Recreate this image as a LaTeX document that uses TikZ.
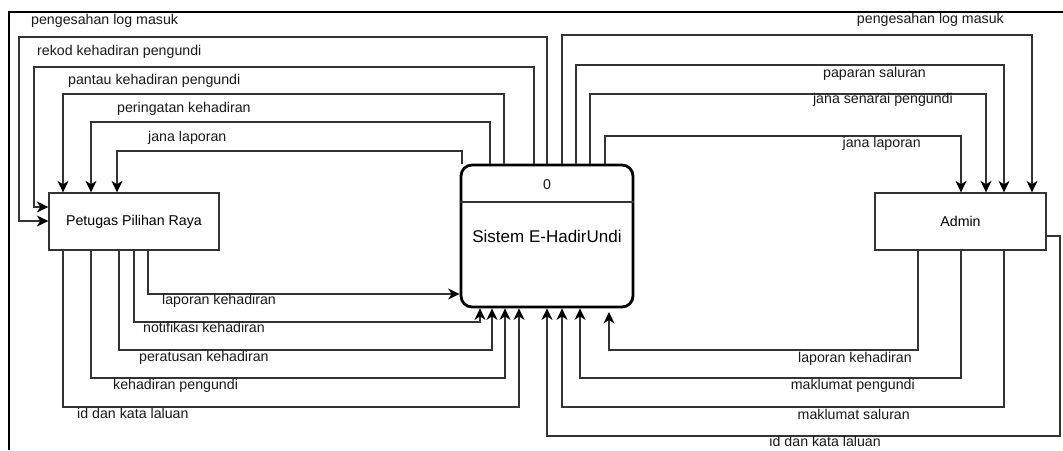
\documentclass[tikz,border=0pt]{standalone}
\usepackage{fontspec}
\setmainfont{Liberation Sans}
\usetikzlibrary{arrows.meta}
\begin{document}
\begin{tikzpicture}[x=1pt,y=-1pt,
  entity/.style={draw=black!80, line width=1.3pt, minimum width=170pt,
    minimum height=57pt, inner sep=0pt, font=\fontsize{14.2}{17}\selectfont},
  process/.style={draw=black, line width=2.8pt, rounded corners=11pt,
    minimum width=172pt, minimum height=142pt, inner sep=0pt,
    font=\fontsize{17}{20}\selectfont},
  flow/.style={draw=black!80, line width=1.3pt,
    -{Stealth[length=11.5pt,width=11pt,inset=3.5pt,color=black]}},
  lbl/.style={inner sep=0pt, text height=10pt, text depth=3pt,
    font=\fontsize{14.2}{17}\selectfont, text=black!90}
]
\useasboundingbox (0,0) rectangle (1063,450);

% page frame
\draw[line width=2pt] (9,450) -- (9,12) -- (1063,12);

% entities and the process
\node[entity]  (P) at (134,221.5) {Petugas Pilihan Raya};
\node[entity, minimum width=171pt] (A) at (960.5,221.5) {Admin};
\node[process] (S) at (547,236) {Sistem E-HadirUndi};
\node[lbl] (Sid) at (547,186) {0};
\draw[line width=2pt, black!80] (S.west |- 0,202) -- (S.east |- 0,202);

% process -> Petugas Pilihan Raya
\draw[flow] (S.north -| 547,0) |- (19,37)  |- (P.west |- 0,221);
\draw[flow] (S.north -| 534,0) |- (34,67)  |- (P.west |- 0,207);
\draw[flow] (S.north -| 504,0) |- (63,94)  -- (P.north -| 63,0);
\draw[flow] (S.north -| 490,0) |- (91,122) -- (P.north -| 91,0);
\draw[flow] (S.north -| 462,0) |- (117,151) -- (P.north -| 117,0);

\node[lbl, anchor=west] (l1) at (31,21)   {pengesahan log masuk};
\node[lbl, anchor=west] (l2) at (37,52)   {rekod kehadiran pengundi};
\node[lbl, anchor=west] (l3) at (68,81)   {pantau kehadiran pengundi};
\node[lbl, anchor=west] (l4) at (117,109) {peringatan kehadiran};
\node[lbl, anchor=west] (l5) at (148,138) {jana laporan};

% Petugas Pilihan Raya -> process
\draw[flow] (P.south -| 148,0) |- (S.west |- 0,294);
\draw[flow] (P.south -| 134,0) |- (480,322) -- (S.south -| 480,0);
\draw[flow] (P.south -| 119,0) |- (492,350) -- (S.south -| 492,0);
\draw[flow] (P.south -| 91,0)  |- (505,378) -- (S.south -| 505,0);
\draw[flow] (P.south -| 63,0)  |- (519,407) -- (S.south -| 519,0);

\node[lbl, anchor=west] (l6)  at (162,301) {laporan kehadiran};
\node[lbl, anchor=west] (l7)  at (143,329) {notifikasi kehadiran};
\node[lbl, anchor=west] (l8)  at (139,358) {peratusan kehadiran};
\node[lbl, anchor=west] (l9)  at (113,386) {kehadiran pengundi};
\node[lbl, anchor=west] (l10) at (77,415)  {id dan kata laluan};

% process -> Admin
\draw[flow] (S.north -| 562,0) |- (1032,35) -- (A.north -| 1032,0);
\draw[flow] (S.north -| 576,0) |- (1004,65) -- (A.north -| 1004,0);
\draw[flow] (S.north -| 590,0) |- (986,94)  -- (A.north -| 986,0);
\draw[flow] (S.north -| 605,0) |- (961,136) -- (A.north -| 961,0);

\node[lbl, anchor=east] (r1) at (1004,20) {pengesahan log masuk};
\node[lbl, anchor=east] (r2) at (926,74)  {paparan saluran};
\node[lbl, anchor=east] (r3) at (953,100) {jana senarai pengundi};
\node[lbl, anchor=east] (r4) at (921,144) {jana laporan};

% Admin -> process
\coordinate (lkEnd) at (609,312);
\draw[flow] (A.south -| 918,0)  |- (609,350) -- (lkEnd);
\draw[flow] (A.south -| 961,0)  |- (580,378) -- (S.south -| 580,0);
\draw[flow] (A.south -| 1004,0) |- (562,407) -- (S.south -| 562,0);
\draw[flow] (A.east |- 0,236) -| (1060,436) -| (S.south -| 547,0);

\node[lbl, anchor=east] (r5) at (912,359) {laporan kehadiran};
\node[lbl, anchor=east] (r6) at (915,386) {maklumat pengundi};
\node[lbl, anchor=east] (r7) at (910,416) {maklumat saluran};
\node[lbl, anchor=east] (r8) at (881,443) {id dan kata laluan};
\end{tikzpicture}
\end{document}
